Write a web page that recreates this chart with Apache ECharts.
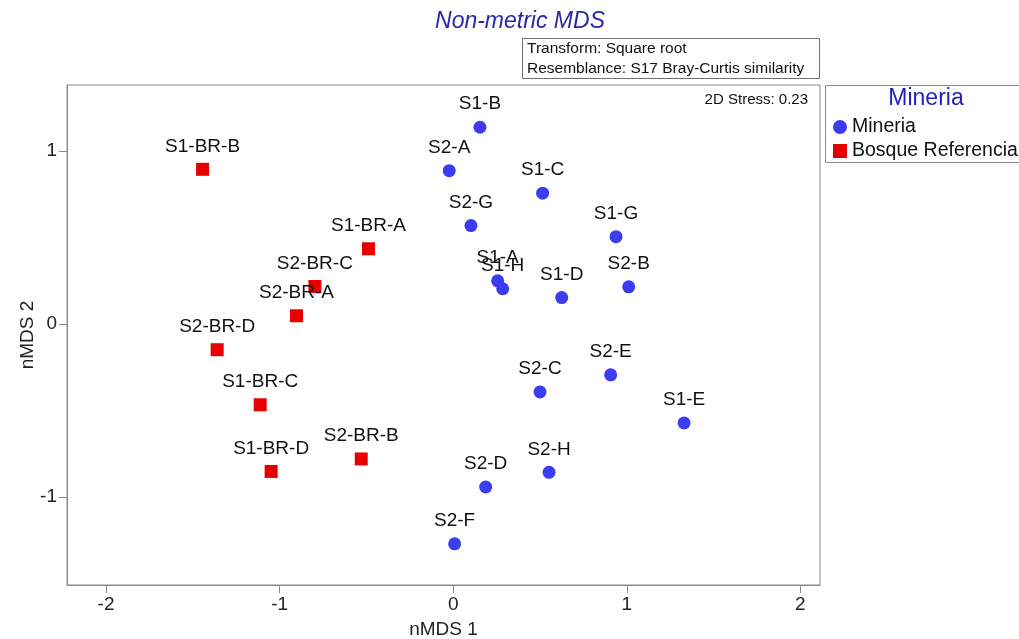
<!DOCTYPE html>
<html>
<head>
<meta charset="utf-8">
<script src="https://cdn.jsdelivr.net/npm/echarts@6/dist/echarts.min.js"></script>
<style>html,body{margin:0;padding:0;background:#fff}#c{width:1019px;height:639px}</style>
</head>
<body>
<div id="c"></div>
<script>
// Mineria samples
var mineriaNames = ['S1-B','S2-A','S1-C','S2-G','S1-G','S1-A','S1-H','S1-D','S2-B','S2-C','S2-E','S1-E','S2-H','S2-D','S2-F'];
var mineriaX = [0.154,-0.023,0.515,0.102,0.938,0.256,0.285,0.625,1.011,0.500,0.907,1.330,0.552,0.187,0.008];
var mineriaY = [1.137,0.886,0.756,0.569,0.505,0.250,0.204,0.153,0.215,-0.392,-0.293,-0.571,-0.856,-0.941,-1.269];
// Bosque Referencia samples
var bosqueNames = ['S1-BR-B','S1-BR-A','S2-BR-C','S2-BR-A','S2-BR-D','S1-BR-C','S1-BR-D','S2-BR-B'];
var bosqueX = [-1.444,-0.488,-0.797,-0.903,-1.360,-1.112,-1.049,-0.530];
var bosqueY = [0.894,0.435,0.217,0.048,-0.148,-0.466,-0.851,-0.779];
var xTicks = [-2,-1,0,1,2];
var yTicks = [-1,0,1];

function pts(names, xs, ys){
  return names.map(function(n,i){ return {name:n, value:[xs[i], ys[i]]}; });
}
var FONT = 'Liberation Sans, Arial, sans-serif';
var chart = echarts.init(document.getElementById('c'), null, {renderer:'canvas'});
var labelStyle = {show:true, position:'top', distance:7, formatter:'{b}', color:'#111', fontSize:19, fontFamily:FONT, opacity:1};
var AX = '#8a8a8a';
chart.setOption({
  animation:false,
  backgroundColor:'#fff',
  grid:{left:67, top:85, width:753, height:500, outerBoundsMode:'none', containLabel:false,
    show:true, borderColor:AX, borderWidth:1, backgroundColor:'transparent'},
  xAxis:{type:'value', min:-2.225, max:2.113,
    name:'nMDS 1', nameLocation:'middle', nameGap:35, nameMoveOverlap:false,
    nameTextStyle:{color:'#222', fontSize:19, fontFamily:FONT},
    axisLine:{show:true, onZero:false, lineStyle:{color:AX}}, splitLine:{show:false},
    axisTick:{show:true, length:8, lineStyle:{color:AX}, customValues:xTicks},
    axisLabel:{color:'#222', fontSize:19, fontFamily:FONT, margin:10, customValues:xTicks}
  },
  yAxis:{type:'value', min:-1.507, max:1.381,
    name:'nMDS 2', nameLocation:'middle', nameGap:30, nameRotate:90, nameMoveOverlap:false,
    nameTextStyle:{color:'#222', fontSize:19, fontFamily:FONT},
    axisLine:{show:true, onZero:false, lineStyle:{color:AX}}, splitLine:{show:false},
    axisTick:{show:true, length:8, lineStyle:{color:AX}, customValues:yTicks},
    axisLabel:{color:'#222', fontSize:19, fontFamily:FONT, margin:10, customValues:yTicks}
  },
  legend:{orient:'vertical', left:833, top:117, itemGap:4, itemWidth:14, itemHeight:14, padding:0,
    textStyle:{color:'#111', fontSize:19.5, fontFamily:FONT},
    data:[{name:'Mineria', icon:'circle'},{name:'Bosque Referencia', icon:'rect'}]
  },
  graphic:[
    {type:'text', x:520, y:10, style:{text:'Non-metric MDS', fill:'#2828a8', font:'italic 23px Liberation Sans, Arial, sans-serif', align:'center'}, z:10},
    {type:'rect', shape:{x:522.5, y:38.5, width:297, height:40}, style:{fill:'#fff', stroke:'#707070', lineWidth:1}, z:10},
    {type:'text', x:527, y:39, style:{text:'Transform: Square root\nResemblance: S17 Bray-Curtis similarity', fill:'#111', font:'15.5px Liberation Sans, Arial, sans-serif', lineHeight:19.5}, z:11},
    {type:'text', x:808, y:92, style:{text:'2D Stress: 0.23', fill:'#111', font:'15px Liberation Sans, Arial, sans-serif', align:'right'}, z:11},
    {type:'rect', shape:{x:825.5, y:85.5, width:200, height:77}, style:{fill:'transparent', stroke:AX, lineWidth:1}, z:10},
    {type:'text', x:926, y:87, style:{text:'Mineria', fill:'#2222c0', font:'23px Liberation Sans, Arial, sans-serif', align:'center'}, z:11}
  ],
  series:[
    {name:'Mineria', type:'scatter', symbol:'circle', symbolSize:13,
     itemStyle:{color:'#3c3cf0', opacity:1}, label:labelStyle,
     data:pts(mineriaNames, mineriaX, mineriaY)},
    {name:'Bosque Referencia', type:'scatter', symbol:'rect', symbolSize:13,
     itemStyle:{color:'#e60000', opacity:1}, label:labelStyle,
     data:pts(bosqueNames, bosqueX, bosqueY)}
  ]
});
</script>
</body>
</html>
